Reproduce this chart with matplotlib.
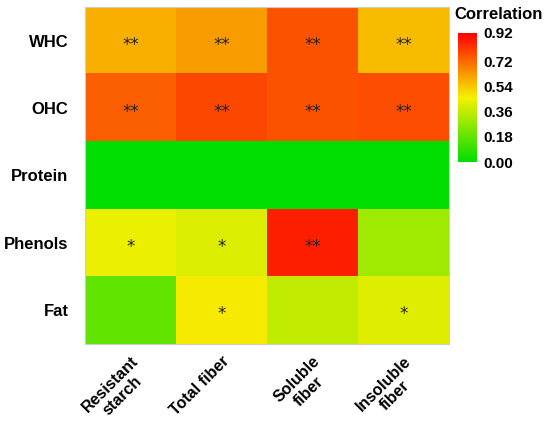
import numpy as np
import matplotlib
matplotlib.use("Agg")
import matplotlib.pyplot as plt
from matplotlib.colors import LinearSegmentedColormap

plt.rcParams['font.family'] = ['Liberation Sans', 'DejaVu Sans']

# rows (top to bottom) and columns
rows = ['WHC', 'OHC', 'Protein', 'Phenols', 'Fat']
cols = ['Resistant\nstarch', 'Total fiber', 'Soluble\nfiber', 'Insoluble\nfiber']

# correlation values
whc = [0.585, 0.62, 0.76, 0.56]
ohc = [0.74, 0.78, 0.76, 0.77]
protein = [0.00, 0.00, 0.00, 0.00]
phenols = [0.44, 0.41, 0.86, 0.30]
fat = [0.18, 0.47, 0.36, 0.42]

# significance marks
sig_whc = ['**', '**', '**', '**']
sig_ohc = ['**', '**', '**', '**']
sig_protein = ['', '', '', '']
sig_phenols = ['*', '*', '**', '']
sig_fat = ['', '*', '', '*']

cbar_ticks = [0.00, 0.18, 0.36, 0.54, 0.72, 0.92]

data = np.array([whc, ohc, protein, phenols, fat])
sig = [sig_whc, sig_ohc, sig_protein, sig_phenols, sig_fat]

cmap = LinearSegmentedColormap.from_list(
    'gyr', [(0.0, '#00dd00'), (0.5, '#f6f000'), (1.0, '#ff0000')])

fig = plt.figure(figsize=(5.5, 4.28), dpi=100)
ax = fig.add_axes([0.155, 0.196, 0.661, 0.788])
im = ax.imshow(data, cmap=cmap, vmin=0, vmax=0.92, aspect='auto')

for i in range(len(rows)):
    for j in range(len(cols)):
        s = sig[i][j]
        if s:
            ax.text(j, i + 0.06, s, ha='center', va='center',
                    fontsize=12, color='#222222', family='DejaVu Sans')

ax.set_xticks(range(len(cols)))
ax.set_xticklabels(cols, rotation=45, ha='right', rotation_mode='anchor',
                   fontsize=11.5, fontweight='bold', multialignment='center',
                   linespacing=1.1)
ax.set_yticks(range(len(rows)))
ax.set_yticklabels(rows, fontsize=12, fontweight='bold')
ax.tick_params(axis='y', length=0, pad=12)
ax.tick_params(axis='x', length=0, pad=7)
for sp in ax.spines.values():
    sp.set_color('#cccccc')

cax = fig.add_axes([0.833, 0.621, 0.034, 0.302])
cb = fig.colorbar(im, cax=cax, ticks=cbar_ticks)
cb.ax.set_yticklabels(['%.2f' % t for t in cbar_ticks], fontsize=11,
                      fontweight='bold')
cb.ax.tick_params(length=3, color='white', pad=2)
cb.outline.set_visible(False)
fig.text(0.826, 0.967, 'Correlation', fontsize=12, fontweight='bold',
         ha='left', va='center')

fig.savefig('out.png', dpi=100)
